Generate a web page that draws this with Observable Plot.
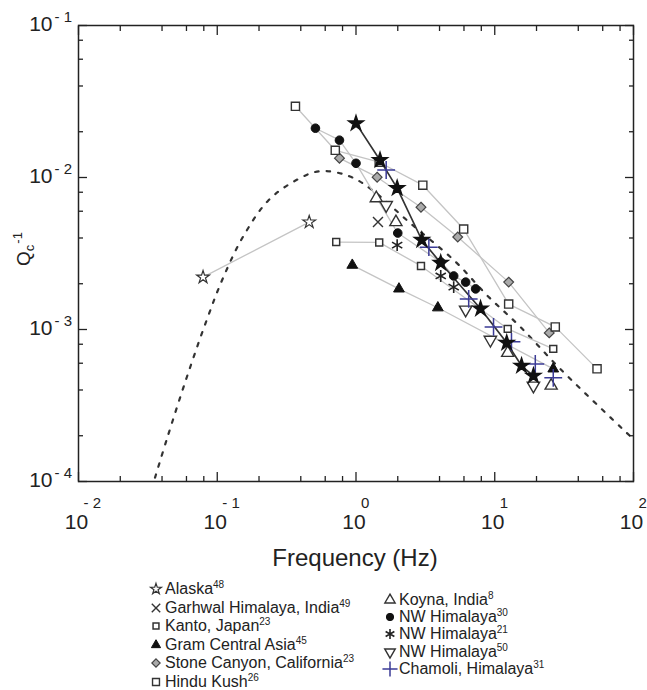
<!DOCTYPE html>
<html>
<head>
<meta charset="utf-8">
<script src="https://cdn.jsdelivr.net/npm/d3@7"></script>
<script src="https://cdn.jsdelivr.net/npm/@observablehq/plot@0.6"></script>
<style>
  html, body { margin: 0; padding: 0; background: #fff; }
  #wrap { position: relative; width: 647px; height: 690px; font-family: "Liberation Sans", Arial, sans-serif; color: #222; overflow: hidden; }
  #chart { position: absolute; left: 0; top: 0; }
  .lg { position: absolute; font-size: 16px; white-space: nowrap; line-height: 18px; height: 18px; }
  .lg svg { position: absolute; top: 0; }
  .lg sup { font-size: 10px; vertical-align: 6px; line-height: 0; }
</style>
</head>
<body>
<div id="wrap"><div id="chart"></div></div>
<script>
// ---------- data ----------
const alaskaF = [0.079, 0.46];
const alaskaQ = [0.00221, 0.00509];
const garhwalF = [1.44];
const garhwalQ = [0.00509];
const kantoF = [0.72, 1.47, 2.94, 12.4, 26.4];
const kantoQ = [0.00376, 0.00374, 0.00262, 0.00101, 0.000746];
const gramF = [0.94, 2.04, 3.89, 26.4];
const gramQ = [0.00265, 0.00185, 0.00139, 0.000551];
const stoneF = [0.76, 1.42, 2.94, 5.41, 12.6, 24.7];
const stoneQ = [0.0134, 0.01005, 0.00638, 0.00406, 0.00205, 0.00095];
const hinduF = [0.366, 0.709, 1.47, 3.03, 5.97, 12.6, 27.3, 54.6];
const hinduQ = [0.0294, 0.0151, 0.0126, 0.0089, 0.00458, 0.00147, 0.00104, 0.000551];
const koynaF = [1.40, 1.94, 12.4, 25.5];
const koynaQ = [0.00731, 0.00509, 0.000702, 0.000427];
const nwh30F = [0.51, 0.76, 1.0, 2.0, 4.08, 5.06, 6.17, 7.28];
const nwh30Q = [0.0211, 0.0176, 0.0124, 0.00431, 0.00278, 0.00225, 0.00205, 0.00185];
const nwh21F = [1.98, 4.08, 5.06];
const nwh21Q = [0.00359, 0.00225, 0.0019];
const nwh50F = [1.65, 6.17, 9.3, 19.0];
const nwh50Q = [0.00658, 0.00135, 0.000855, 0.000427];
const chamoliF = [1.65, 3.35, 6.49, 9.8, 13.2, 19.6, 26.4];
const chamoliQ = [0.0112, 0.00348, 0.00159, 0.00104, 0.00083, 0.000594, 0.000481];
const presentF = [1.0, 1.49, 1.98, 2.98, 4.08, 7.9, 12.2, 15.6, 19.0];
const presentQ = [0.0227, 0.0130, 0.00851, 0.00388, 0.00274, 0.00137, 0.000817, 0.000577, 0.000496];
// dashed reference curve, points read along it
const curveF = [0.0356, 0.0434, 0.0605, 0.0841, 0.110, 0.153, 0.231, 0.349, 0.545, 0.894, 1.31, 2.41, 5.24, 8.73, 15.3, 30.1, 95.7];
const curveQ = [0.000106, 0.000191, 0.000489, 0.00116, 0.00218, 0.00406, 0.00699, 0.00931, 0.0110, 0.0102, 0.00826, 0.00509, 0.00278, 0.00169, 0.00104, 0.000543, 0.000197];

// ticks / labels
const xMajor = [0.01, 0.1, 1, 10, 100];
const xExp = ["- 2", "- 1", "0", "1", "2"];
const yMajor = [1e-4, 1e-3, 1e-2, 1e-1];
const yExp = ["- 4", "- 3", "- 2", "- 1"];
const minorMult = [2, 4, 6, 8];
const xMinor = [-2, -1, 0, 1].flatMap(e => minorMult.map(m => m * Math.pow(10, e)));
const yMinor = [-4, -3, -2].flatMap(e => minorMult.map(m => m * Math.pow(10, e)));

const legendLeft = [
  ["alaska", "Alaska", "48"],
  ["garhwal", "Garhwal Himalaya, India", "49"],
  ["kanto", "Kanto, Japan", "23"],
  ["gram", "Gram Central Asia", "45"],
  ["stone", "Stone Canyon, California", "23"],
  ["hindu", "Hindu Kush", "26"]
];
const legendRight = [
  ["koyna", "Koyna, India", "8"],
  ["nwh30", "NW Himalaya", "30"],
  ["nwh21", "NW Himalaya", "21"],
  ["nwh50", "NW Himalaya", "50"],
  ["chamoli", "Chamoli, Himalaya", "31"]
];

// ---------- build tables ----------
const rows = (key, F, Q) => F.map((f, i) => ({key, f, q: Q[i]}));
const data = {
  alaska: rows("alaska", alaskaF, alaskaQ),
  garhwal: rows("garhwal", garhwalF, garhwalQ),
  kanto: rows("kanto", kantoF, kantoQ),
  gram: rows("gram", gramF, gramQ),
  stone: rows("stone", stoneF, stoneQ),
  hindu: rows("hindu", hinduF, hinduQ),
  koyna: rows("koyna", koynaF, koynaQ),
  nwh30: rows("nwh30", nwh30F, nwh30Q),
  nwh21: rows("nwh21", nwh21F, nwh21Q),
  nwh50: rows("nwh50", nwh50F, nwh50Q),
  chamoli: rows("chamoli", chamoliF, chamoliQ)
};
const present = rows("present", presentF, presentQ);
const curve = rows("curve", curveF, curveQ);

// styles
const sty = {
  alaska:  {symbol: "star", r: 4.0, fill: "white", stroke: "#333", strokeWidth: 1.2, line: true},
  garhwal: {symbol: "times", r: 4.6, fill: "none", stroke: "#333", strokeWidth: 1.4},
  kanto:   {symbol: "square", r: 3.9, fill: "white", stroke: "#333", strokeWidth: 1.5, line: true},
  gram:    {symbol: "triangle", r: 4.0, fill: "#111", stroke: "#111", strokeWidth: 1, line: true},
  stone:   {symbol: "diamond2", r: 4.4, fill: "#aaa", stroke: "#444", strokeWidth: 1.2, line: true},
  hindu:   {symbol: "square", r: 4.6, fill: "white", stroke: "#333", strokeWidth: 1.4, line: true},
  koyna:   {symbol: "triangle", r: 4.5, fill: "white", stroke: "#333", strokeWidth: 1.4},
  nwh30:   {symbol: "circle", r: 4.3, fill: "#111", stroke: "#111", strokeWidth: 1, line: true},
  nwh21:   {symbol: "asterisk", r: 5.6, fill: "none", stroke: "#222", strokeWidth: 1.6},
  nwh50:   {symbol: "triangle", r: 4.6, fill: "white", stroke: "#333", strokeWidth: 1.4, rotate: 180},
  chamoli: {symbol: "plus", r: 5.8, fill: "none", stroke: "#3b3b96", strokeWidth: 1.5}
};

const lined = Object.keys(data).filter(k => sty[k].line).flatMap(k => data[k]);

const dotMarks = Object.keys(data).map(k => {
  const s = sty[k];
  return Plot.dot(data[k], {x: "f", y: "q", symbol: s.symbol, r: s.r, fill: s.fill, stroke: s.stroke, strokeWidth: s.strokeWidth, rotate: s.rotate || 0});
});

const tickOpts = {tickFormat: () => "", label: null, stroke: "#222", strokeWidth: 1.3};

const plot = Plot.plot({
  width: 647,
  height: 580,
  marginLeft: 78,
  marginRight: 14,
  marginTop: 25,
  marginBottom: 99,
  style: {fontFamily: "Liberation Sans, Arial, sans-serif", background: "white", overflow: "visible", color: "#222"},
  x: {type: "log", domain: [0.01, 100], axis: null, label: null},
  y: {type: "log", domain: [1e-4, 1e-1], axis: null, label: null},
  marks: [
    Plot.line(curve, {x: "f", y: "q", curve: "catmull-rom", stroke: "#333", strokeWidth: 2.2, strokeDasharray: "3.5,8", clip: true}),
    Plot.line(lined, {x: "f", y: "q", z: "key", stroke: "#c4c4c4", strokeWidth: 1.3}),
    Plot.line(present, {x: "f", y: "q", stroke: "#333", strokeWidth: 1.7}),
    ...dotMarks,
    Plot.dot(present, {x: "f", y: "q", symbol: "star", r: 4.6, fill: "#111", stroke: "#111"}),
    // inward ticks on all four sides
    Plot.axisX(xMajor, {anchor: "bottom", tickSize: -9, ...tickOpts}),
    Plot.axisX(xMinor, {anchor: "bottom", tickSize: -5, ...tickOpts}),
    Plot.axisX(xMajor, {anchor: "top", tickSize: -9, ...tickOpts}),
    Plot.axisX(xMinor, {anchor: "top", tickSize: -5, ...tickOpts}),
    Plot.axisY(yMajor, {anchor: "left", tickSize: -9, ...tickOpts}),
    Plot.axisY(yMinor, {anchor: "left", tickSize: -5, ...tickOpts}),
    Plot.axisY(yMajor, {anchor: "right", tickSize: -9, ...tickOpts}),
    Plot.axisY(yMinor, {anchor: "right", tickSize: -5, ...tickOpts}),
    Plot.frame({stroke: "#222", strokeWidth: 1.5}),
    // tick labels "10" with raised exponents
    Plot.text(xMajor, {x: d => d, text: () => "10", frameAnchor: "bottom", dy: 47, dx: -2, fontSize: 21, fill: "#222"}),
    Plot.text(xMajor, {x: d => d, text: (d, i) => xExp[i], frameAnchor: "bottom", dy: 26, dx: 5, textAnchor: "start", fontSize: 15, fill: "#222"}),
    Plot.text(yMajor, {y: d => d, text: () => "10", frameAnchor: "left", dx: -26, dy: -1, textAnchor: "end", fontSize: 21, fill: "#222"}),
    Plot.text(yMajor, {y: d => d, text: (d, i) => yExp[i], frameAnchor: "left", dx: -24, dy: -8, textAnchor: "start", fontSize: 15, fill: "#222"})
  ]
});

document.getElementById("chart").appendChild(plot);

// axis titles
const svg = d3.select(plot);
svg.append("text")
  .attr("x", 355).attr("y", 566)
  .attr("text-anchor", "middle")
  .attr("font-size", 24)
  .attr("fill", "#222")
  .text("Frequency (Hz)");
const yl = svg.append("text")
  .attr("transform", "translate(30,249) rotate(-90)")
  .attr("font-size", 19)
  .attr("fill", "#222");
yl.append("tspan").text("Q");
yl.append("tspan").attr("font-size", 13).attr("dy", 4).text("c");
yl.append("tspan").attr("font-size", 13).attr("dy", -12).attr("dx", 1).text("-1");

// legend
function symbolSvg(key) {
  const s = sty[key];
  const sym = {star: d3.symbolStar, times: d3.symbolTimes, square: d3.symbolSquare, triangle: d3.symbolTriangle,
    diamond2: d3.symbolDiamond2, circle: d3.symbolCircle, asterisk: d3.symbolAsterisk, plus: d3.symbolPlus}[s.symbol];
  const r = s.r * 0.85;
  const p = d3.symbol(sym, Math.PI * r * r)();
  return `<svg width="16" height="18" viewBox="-8 -9 16 18" style="left:-17px"><path d="${p}" transform="rotate(${s.rotate || 0})" fill="${s.fill}" stroke="${s.stroke}" stroke-width="${s.strokeWidth}"/></svg>`;
}
const wrap = document.getElementById("wrap");
function addLegend(items, xText, yc0, step) {
  items.forEach(([key, label, sup], i) => {
    const d = document.createElement("div");
    d.className = "lg";
    d.style.left = xText + "px";
    d.style.top = (yc0 - 9 + i * step) + "px";
    d.innerHTML = symbolSvg(key) + `${label}<sup>${sup}</sup>`;
    wrap.appendChild(d);
  });
}
addLegend(legendLeft, 165, 589, 18.6);
addLegend(legendRight, 399, 600, 17.2);
</script>
</body>
</html>
